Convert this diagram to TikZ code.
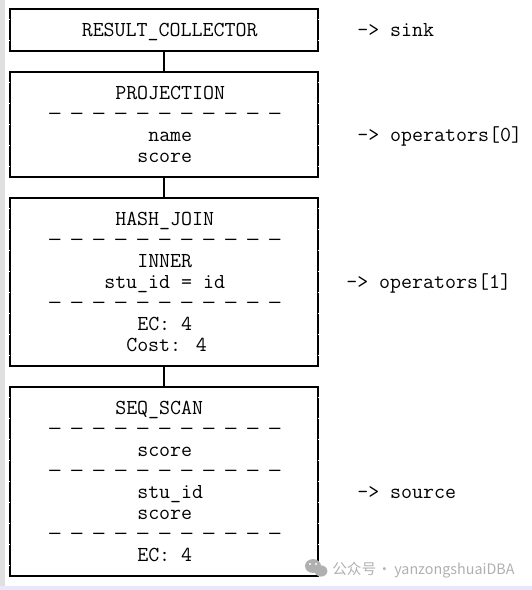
\documentclass[tikz,border=0pt]{standalone}
\usepackage{fontspec}
\setmainfont{Latin Modern Mono}
\newfontfamily\rulefont{Liberation Mono}
\newfontfamily\markfont{Noto Sans CJK SC}
\usepackage{xcolor}
\definecolor{pagegray}{RGB}{224,224,224}
\definecolor{pagelilac}{RGB}{232,232,252}
\definecolor{markgray}{RGB}{176,176,176}
\usetikzlibrary{arrows.meta,positioning}
\tikzset{
  opbox/.style={draw=black, line width=0.85pt, minimum width=231pt, inner sep=0pt},
  rowtext/.style={anchor=base west, inner sep=0pt, font=\fontsize{16pt}{18pt}\selectfont, text=black},
  rowrule/.style={anchor=base west, inner sep=0pt, font=\rulefont\fontsize{13.75pt}{16pt}\selectfont, text=black},
  linkline/.style={draw=black, line width=1.1pt},
  wallgap/.style={draw=white, line width=1.2pt, dash pattern=on 0.6pt off 15.15pt, dash phase=7.6pt},
  marktext/.style={anchor=base west, inner sep=0pt, text=markgray}
}
\begin{document}
\begin{tikzpicture}[x=0.75pt, y=-0.75pt]
  \useasboundingbox (0,0) rectangle (532,590);
  \fill[pagegray] (0,0) rectangle (5,590);
  \fill[pagelilac] (0,586) rectangle (532,590);

  % boxes
  \node[opbox, minimum height=31.5pt] (collector) at (164,30) {};
  \node[opbox, minimum height=78.75pt] (projection) at (164,124.5) {};
  \node[opbox, minimum height=126pt] (hashjoin) at (164,282) {};
  \node[opbox, minimum height=141.75pt] (seqscan) at (164,481.5) {};

  \draw[linkline] (collector) -- (projection);
  \draw[linkline] (projection) -- (hashjoin);
  \draw[linkline] (hashjoin) -- (seqscan);

  \foreach \b in {collector,projection,hashjoin,seqscan} {
    \draw[wallgap] (\b.north west) -- (\b.south west);
    \draw[wallgap] (\b.north east) -- (\b.south east);
  }

  % RESULT_COLLECTOR
  \node[rowtext] (t1) at (81.5,36) {RESULT\_COLLECTOR};
  \node[rowtext] (sink) at (357,36) {-> sink};

  % PROJECTION
  \node[rowtext] (t2) at (115,99) {PROJECTION};
  \node[rowrule] (d2) at (49,119.5) {─ ─ ─ ─ ─ ─ ─ ─ ─ ─ ─};
  \node[rowtext] (t3) at (148,141) {name};
  \node[rowtext] (t4) at (137,162) {score};
  \node[rowtext] (ops0) at (357,141) {-> operators[0]};

  % HASH_JOIN
  \node[rowtext] (t5) at (115,225) {HASH\_JOIN};
  \node[rowrule] (d3) at (49,245.5) {─ ─ ─ ─ ─ ─ ─ ─ ─ ─ ─};
  \node[rowtext] (t6) at (137,267) {INNER};
  \node[rowtext] (t7) at (104,288) {stu\_id = id};
  \node[rowrule] (d4) at (49,308.5) {─ ─ ─ ─ ─ ─ ─ ─ ─ ─ ─};
  \node[rowtext] (t8) at (137,330) {EC: 4};
  \node[rowtext] (t9) at (126,351) {Cost: 4};
  \node[rowtext] (ops1) at (346,288) {-> operators[1]};

  % SEQ_SCAN
  \node[rowtext] (t10) at (115,414) {SEQ\_SCAN};
  \node[rowrule] (d5) at (49,434.5) {─ ─ ─ ─ ─ ─ ─ ─ ─ ─ ─};
  \node[rowtext] (t11) at (137,456) {score};
  \node[rowrule] (d6) at (49,476.5) {─ ─ ─ ─ ─ ─ ─ ─ ─ ─ ─};
  \node[rowtext] (t12) at (137,498) {stu\_id};
  \node[rowtext] (t13) at (137,519) {score};
  \node[rowrule] (d7) at (49,539.5) {─ ─ ─ ─ ─ ─ ─ ─ ─ ─ ─};
  \node[rowtext] (t14) at (137,561) {EC: 4};
  \node[rowtext] (source) at (357,498) {-> source};

  % watermark
  \fill[markgray] (313,566) ellipse [x radius=6pt, y radius=5.2pt];
  \fill[markgray] (321,571) ellipse [x radius=4.8pt, y radius=4.2pt];
  \fill[white] (310,564) circle [radius=0.9pt] (316,564) circle [radius=0.9pt];
  \node[marktext, font=\markfont\fontsize{11pt}{13pt}\selectfont] (mark) at (332,574) {公众号};
  \node[marktext, font=\markfont\fontsize{10.6pt}{13pt}\selectfont] (markdot) at (377,574) {·};
  \node[marktext, font=\markfont\fontsize{10.75pt}{13pt}\selectfont] (markname) at (394,574) {yanzongshuaiDBA};
\end{tikzpicture}
\end{document}
